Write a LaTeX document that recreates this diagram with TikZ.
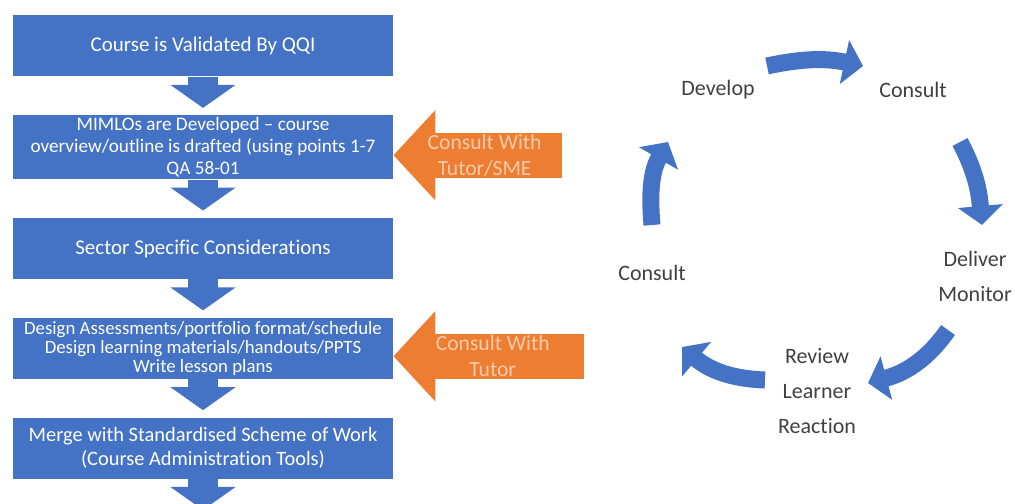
\documentclass[tikz,border=0pt]{standalone}
\usepackage{fontspec}
\setmainfont{Carlito}[Ligatures=NoCommon]
\usepackage{tikz}
\usetikzlibrary{positioning,arrows.meta}
\definecolor{qblue}{HTML}{4472C4}
\definecolor{qorange}{HTML}{ED7D31}
\definecolor{qpeach}{HTML}{F8CBAD}
\definecolor{qgrey}{HTML}{404040}

\begin{document}
\begin{tikzpicture}[
			x=0.5pt,y=0.5pt,
			node distance=19pt,
			stage/.style={
				fill=qblue,
				text=white,
				minimum width=190pt,
				minimum height=30.5pt,
				inner sep=1pt,
				align=center,
				font=\fontsize{10.5}{12.6}\selectfont
			},
			flow/.style={
				draw=qblue,
				line width=15pt,
				-{Triangle[width=32pt,length=11.5pt]}
			},
			consult/.style={
				draw=qorange,
				line width=22.5pt,
				-{Triangle[width=44pt,length=21pt]}
			},
			consulttext/.style={
				text=qpeach,
				align=center,
				font=\fontsize{10.8}{13}\selectfont
			},
			cyclabel/.style={
				text=qgrey,
				align=center,
				font=\fontsize{11}{17.5}\selectfont
			},
			turn/.style={
				draw=qblue,
				line width=8.5pt,
				-{Triangle[width=22pt,length=9.5pt]}
			}
			]
			\useasboundingbox (0,0) rectangle (1015,503);
			\clip (0,0) rectangle (1015,503);
			
			% Flow of the course design
			\node[stage] (b1) at (203,457) {Course is Validated By QQI};
			\node[stage, below=of b1, font=\fontsize{9.6}{11}\selectfont] (b2) {MIMLOs are Developed -- course\\overview/outline is drafted (using points 1-7\\QA 58-01};
			\node[stage, below=of b2] (b3) {Sector Specific Considerations};
			\node[stage, below=of b3, font=\fontsize{9.4}{9.5}\selectfont] (b4) {Design Assessments/portfolio format/schedule\\Design learning materials/handouts/PPTS\\Write lesson plans};
			\node[stage, below=of b4, font=\fontsize{10.2}{12}\selectfont] (b5) {Merge with Standardised Scheme of Work\\(Course Administration Tools)};
			\coordinate (next) at ([yshift=-15.5pt]b5.south);
			
			\draw[flow] (b1.south) -- ([yshift=3.5pt]b2.north);
			\draw[flow] (b2.south) -- ([yshift=3.5pt]b3.north);
			\draw[flow] (b3.south) -- ([yshift=3.5pt]b4.north);
			\draw[flow] (b4.south) -- ([yshift=3.5pt]b5.north);
			\draw[flow] (b5.south) -- (next);
			
			% Consultation arrows
			\coordinate (sme) at ([shift={(169,-8)}]b2.east);
			\coordinate (tutor) at ([shift={(191,-8)}]b4.east);
			\draw[consult] (sme) -- node[consulttext, pos=0.46] {Consult With\\Tutor/SME} ([yshift=-4pt]b2.east);
			\draw[consult] (tutor) -- node[consulttext, pos=0.48] {Consult With\\Tutor} ([yshift=-4pt]b4.east);
			
			% Cycle
			\node[cyclabel] (dev) at (718,413) {Develop};
			\node[cyclabel] (con1) at (913,413) {Consult};
			\node[cyclabel] (del) at (975,227) {Deliver\\Monitor};
			\node[cyclabel] (rev) at (817,112) {Review\\Learner\\Reaction};
			\node[cyclabel] (con2) at (652,230) {Consult};
			
			\coordinate (c1s) at (767,437);
			\coordinate (c1e) at (863,437);
			\coordinate (c2s) at (960,361);
			\coordinate (c2e) at (982,278);
			\coordinate (c3s) at (948,173);
			\coordinate (c3e) at (868,120);
			\coordinate (c4s) at (765,123);
			\coordinate (c4e) at (682,156);
			\coordinate (c5s) at (652,278);
			\coordinate (c5e) at (668,361);
			
			\draw[turn] (c1s) to[out=12,in=168] (c1e);
			\draw[turn] (c2s) to[out=-62,in=95] (c2e);
			\draw[turn] (c3s) to[out=-125,in=15] (c3e);
			\draw[turn] (c4s) to[out=178,in=-40] (c4e);
			\draw[turn] (c5s) to[out=95,in=-120] (c5e);
		\end{tikzpicture}
\end{document}
